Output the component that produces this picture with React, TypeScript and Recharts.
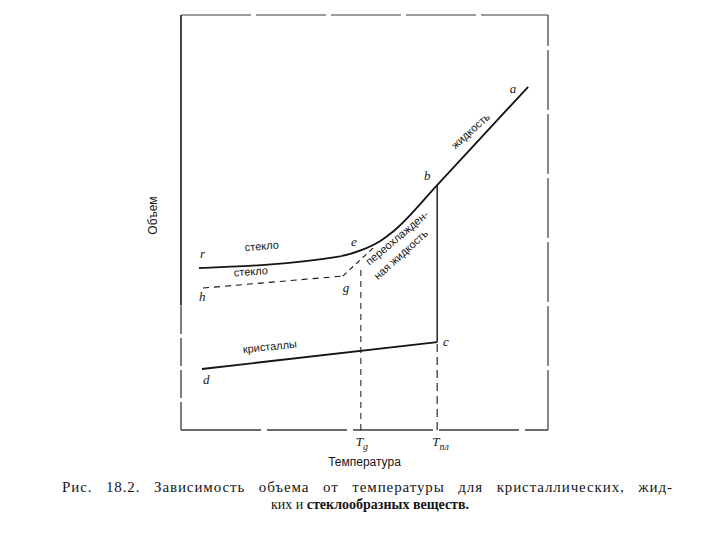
import { LineChart, Line, XAxis, YAxis, ReferenceLine, ReferenceDot } from 'recharts';

// температура (t) и объём (v) в условных единицах, оси 0..100
const TG = 49;
const TPL = 69.8;

// стекло r -> e -> переохлаждённая жидкость -> b -> жидкость a
const liquidT = [4.9, 42.5, 49.3, 54.2, 58.3, 69.8, 94.6];
const liquidV = [39.0, 41.7, 43.4, 45.5, 48.2, 59.0, 82.7];

// второе стекло h -> g и продолжение к кривой
const glass2T = [6.0, 44.1];
const glass2V = [34.2, 37.1];
const extT = [44.1, 52.9];
const extV = [37.1, 44.3];

// кристаллы d -> c
const crystalT = [5.7, 69.8];
const crystalV = [14.7, 21.2];

const meltV = 21.2; // точка c
const bV = 59.0; // точка b
const tgTopV = 39.0;

const zip = (ts: number[], vs: number[]) => ts.map((t, i) => ({ t, v: vs[i] }));

const liquid = zip(liquidT, liquidV);
const glass2 = zip(glass2T, glass2V);
const ext = zip(extT, extV);
const crystal = zip(crystalT, crystalV);

// подписи
const letterNotes = [
  { t: 89.6, v: 81.2, text: 'a' },
  { t: 66.2, v: 60.2, text: 'b' },
  { t: 46.3, v: 44.3, text: 'e' },
  { t: 5.2, v: 41.4, text: 'r' },
  { t: 4.9, v: 31.1, text: 'h' },
  { t: 44.1, v: 33.3, text: 'g' },
  { t: 6.0, v: 11.1, text: 'd' },
  { t: 71.4, v: 20.2, text: 'c' },
];

const wordNotes = [
  { t: 22.1, v: 43.4, text: 'стекло', angle: -5 },
  { t: 19.1, v: 37.3, text: 'стекло', angle: -4 },
  { t: 24.3, v: 19.2, text: 'кристаллы', angle: -6 },
  { t: 79.6, v: 71.4, text: 'жидкость', angle: -42 },
  { t: 59.5, v: 45.6, text: 'переохлажден-', angle: -40 },
  { t: 60.6, v: 41.6, text: 'ная жидкость', angle: -42 },
];

const INK = '#151515';
const FRAME = '#3a3a3a';
const SANS = '"Liberation Sans", Arial, sans-serif';
const SERIF = '"Liberation Serif", "Times New Roman", serif';

const TempTick = ({ x, y, payload }: any) => (
  <text x={x - 5} y={y + 8} fontFamily={SERIF} fontSize={13} fill={INK}>
    <tspan fontStyle="italic">T</tspan>
    <tspan fontSize={10} dy={4} fontStyle="italic">
      {payload.value === TG ? 'g' : 'пл'}
    </tspan>
  </text>
);

const App = () => {
  return (
    <div style={{ position: 'absolute', left: 0, top: 0, width: 720, height: 540, background: '#fff' }}>
      <LineChart
        width={720}
        height={540}
        margin={{ top: 15, right: 172, bottom: 60, left: 141 }}
      >
        <XAxis
          dataKey="t"
          type="number"
          domain={[0, 100]}
          allowDataOverflow
          ticks={[TG, TPL]}
          tick={<TempTick />}
          tickLine={false}
          axisLine={false}
          height={50}
          label={{
            content: ({ viewBox }: any) => (
              <text
                x={viewBox.x + viewBox.width / 2}
                y={viewBox.y + 36}
                textAnchor="middle"
                fontFamily={SANS}
                fontSize={12}
                fill={INK}
              >
                Температура
              </text>
            ),
          }}
        />
        <YAxis
          type="number"
          domain={[0, 100]}
          allowDataOverflow
          width={40}
          tick={false}
          tickLine={false}
          axisLine={false}
          label={{
            content: ({ viewBox }: any) => {
              const x = viewBox.x + 16;
              const y = viewBox.y + viewBox.height / 2 - 7;
              return (
                <text
                  x={x}
                  y={y}
                  transform={`rotate(-90 ${x} ${y})`}
                  textAnchor="middle"
                  fontFamily={SANS}
                  fontSize={12}
                  fill={INK}
                >
                  Объем
                </text>
              );
            },
          }}
        />

        {/* рамка */}
        <ReferenceLine segment={[{ x: 0, y: 30 }, { x: 0, y: 100 }]} stroke={INK} strokeWidth={1.6} />
        <ReferenceLine segment={[{ x: 0, y: 0 }, { x: 0, y: 30 }]} stroke={FRAME} strokeWidth={1.3} strokeDasharray="28 4" />
        <ReferenceLine y={100} stroke={FRAME} strokeWidth={1.2} strokeDasharray="70 5" />
        <ReferenceLine x={100} stroke={FRAME} strokeWidth={1.2} strokeDasharray="60 4" />
        <ReferenceLine y={0} stroke={FRAME} strokeWidth={1.3} strokeDasharray="80 6" />

        {/* вертикали Tg и Tпл */}
        <ReferenceLine segment={[{ x: TG, y: 0 }, { x: TG, y: tgTopV }]} stroke={INK} strokeWidth={1} strokeDasharray="6 5" />
        <ReferenceLine segment={[{ x: TPL, y: meltV }, { x: TPL, y: bV }]} stroke={INK} strokeWidth={1.4} />
        <ReferenceLine segment={[{ x: TPL, y: 0 }, { x: TPL, y: meltV }]} stroke={INK} strokeWidth={1.1} strokeDasharray="8 5" />

        <Line data={liquid} dataKey="v" type="monotone" stroke={INK} strokeWidth={1.8} dot={false} isAnimationActive={false} />
        <Line data={glass2} dataKey="v" type="linear" stroke={INK} strokeWidth={1.1} strokeDasharray="6 5" dot={false} isAnimationActive={false} />
        <Line data={ext} dataKey="v" type="linear" stroke={INK} strokeWidth={1.1} strokeDasharray="5 4" dot={false} isAnimationActive={false} />
        <Line data={crystal} dataKey="v" type="linear" stroke={INK} strokeWidth={1.8} dot={false} isAnimationActive={false} />

        {letterNotes.map((n) => (
          <ReferenceDot
            key={`l-${n.text}`}
            x={n.t}
            y={n.v}
            r={0}
            shape={(p: any) => (
              <text x={p.cx} y={p.cy} fontFamily={SERIF} fontStyle="italic" fontSize={13} fill={INK}>
                {n.text}
              </text>
            )}
          />
        ))}
        {wordNotes.map((n, i) => (
          <ReferenceDot
            key={`w-${i}`}
            x={n.t}
            y={n.v}
            r={0}
            shape={(p: any) => (
              <text
                x={p.cx}
                y={p.cy}
                transform={`rotate(${n.angle} ${p.cx} ${p.cy})`}
                textAnchor="middle"
                fontFamily={SANS}
                fontSize={11}
                fill={INK}
              >
                {n.text}
              </text>
            )}
          />
        ))}
      </LineChart>

      <svg width={720} height={60} style={{ position: 'absolute', left: 0, top: 476 }}>
        <text
          x={62}
          y={16}
          textLength={610}
          lengthAdjust="spacing"
          wordSpacing={9}
          fontFamily={SERIF}
          fontSize={15}
          fill={INK}
        >
          Рис. 18.2. Зависимость объема от температуры для кристаллических, жид-
        </text>
        <text x={370} y={33} textAnchor="middle" fontFamily={SERIF} fontSize={14} fill={INK}>
          ких и <tspan fontWeight="bold">стеклообразных веществ.</tspan>
        </text>
      </svg>
    </div>
  );
};

export default App;
